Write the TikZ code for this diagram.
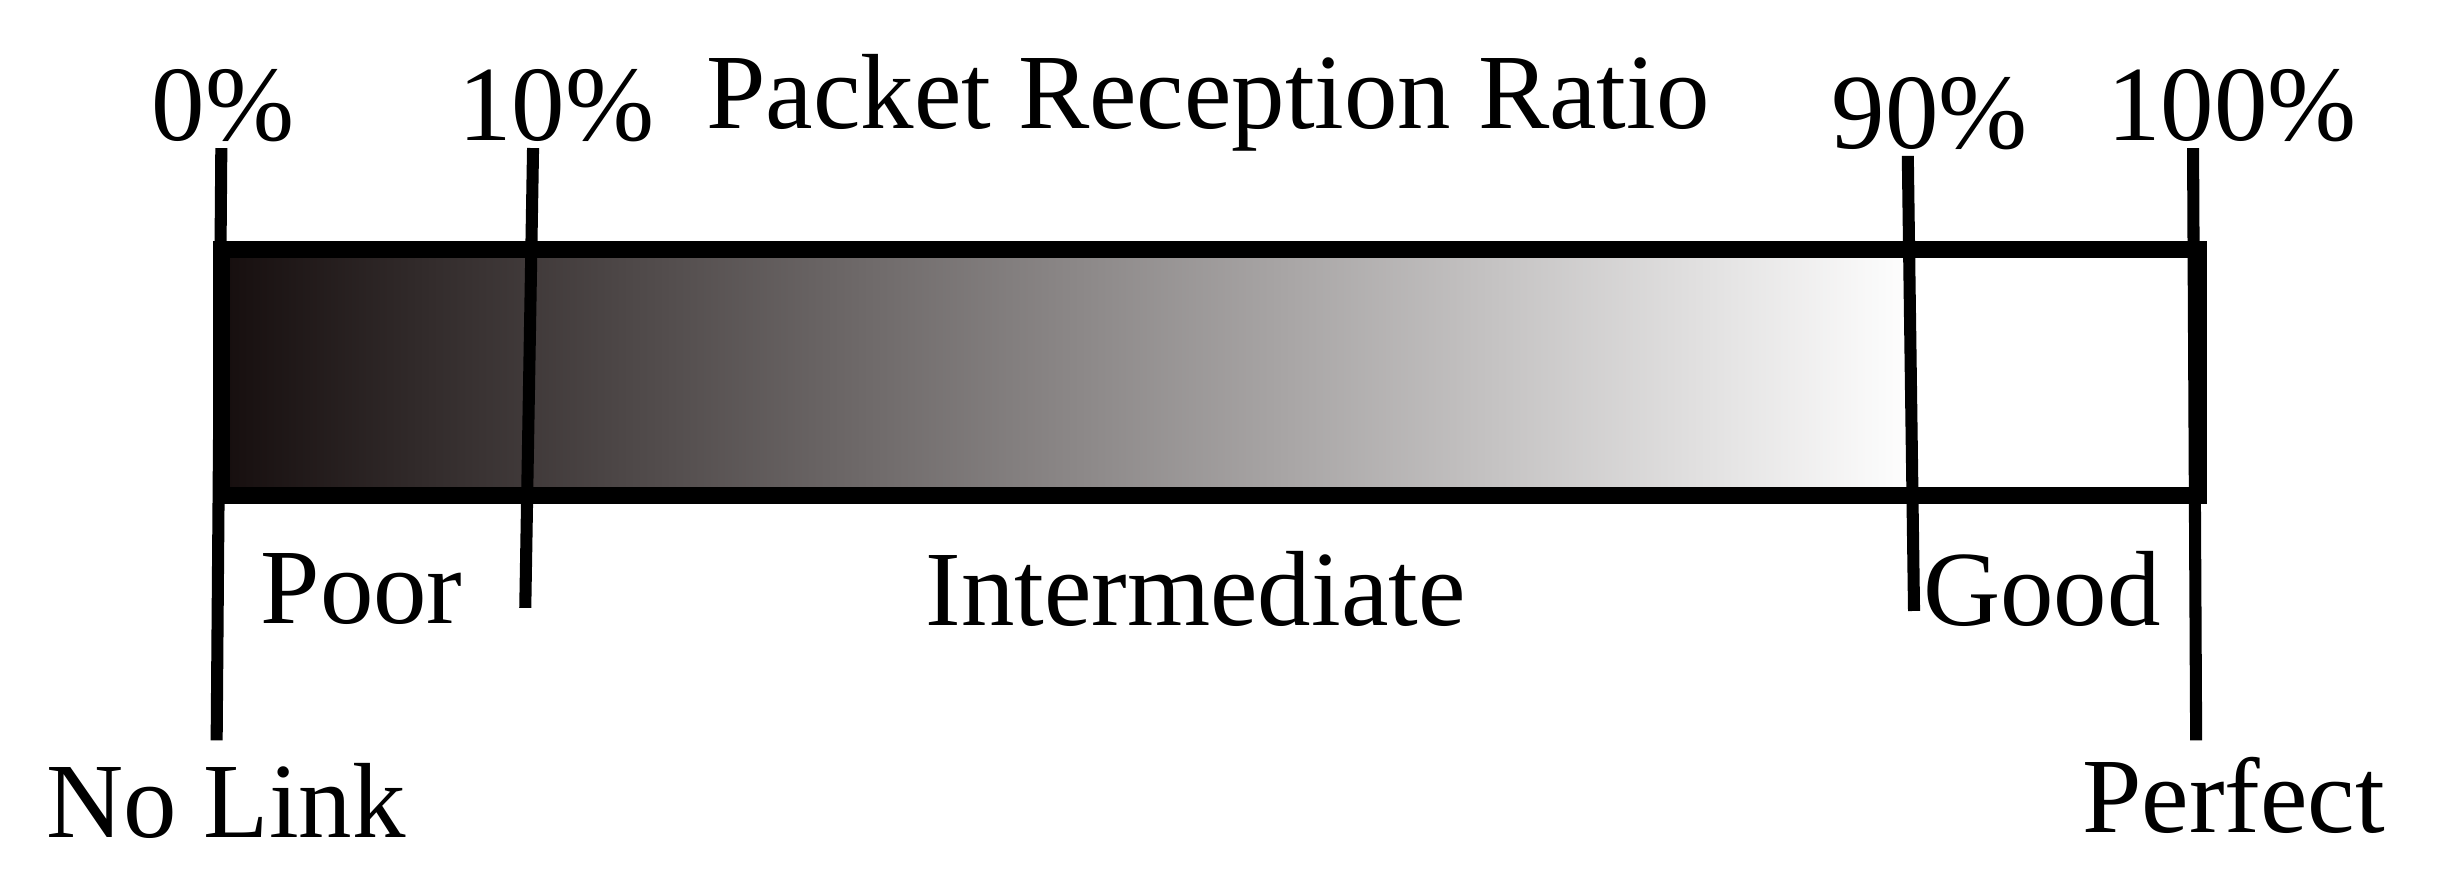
\documentclass[tikz,border=0pt]{standalone}
\usepackage{fontspec}
\setmainfont{Liberation Serif}
\definecolor{darkend}{RGB}{22,14,14}
\begin{document}
\begin{tikzpicture}[x=0.01cm,y=-0.01cm,
  lbl/.style={font=\fontsize{19.5}{22}\selectfont, inner sep=0pt},
  tick/.style={line width=2.2pt}]
\useasboundingbox (0,0) rectangle (1568,565);
\shade[left color=darkend, right color=white] (142,160) rectangle (1230,318);
\fill[white] (1230,160) rectangle (1410,318);
\draw[line width=3.2pt] (142,160) rectangle (1410,318);
\coordinate (a0) at (142,95); \coordinate (b0) at (139,475);
\coordinate (a1) at (342,95); \coordinate (b1) at (337,390);
\coordinate (a2) at (1224,100); \coordinate (b2) at (1228,392);
\coordinate (a3) at (1407,95); \coordinate (b3) at (1409,475);
\draw[tick] (a0) -- (b0);
\draw[tick] (a1) -- (b1);
\draw[tick] (a2) -- (b2);
\draw[tick] (a3) -- (b3);
\node[lbl] (t0) at (143,68) {0\%};
\node[lbl] (t10) at (357,68) {10\%};
\node[lbl] (title) at (775,66) {Packet Reception Ratio};
\node[lbl] (t90) at (1238,73) {90\%};
\node[lbl] (t100) at (1432,68) {100\%};
\node[lbl] (poor) at (232,378) {Poor};
\node[lbl] (inter) at (767,378) {Intermediate};
\node[lbl] (good) at (1310,378) {Good};
\node[lbl] (nolink) at (145,514) {No Link};
\node[lbl] (perfect) at (1433,510) {Perfect};
\end{tikzpicture}
\end{document}
